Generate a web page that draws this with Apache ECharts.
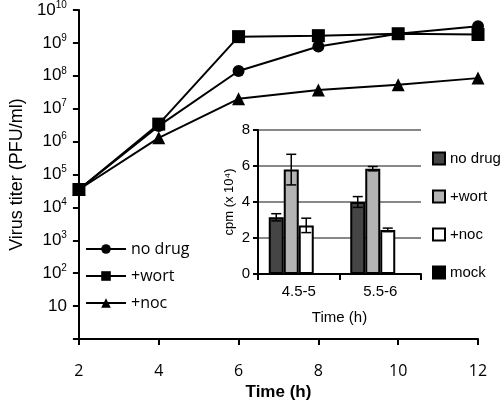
<!DOCTYPE html>
<html><head><meta charset="utf-8">
<script src="https://cdn.jsdelivr.net/npm/echarts@6/dist/echarts.min.js"></script>
<style>html,body{margin:0;padding:0;background:#fff}#c{width:500px;height:407px}</style>
</head><body><div id="c"></div>
<script>
// Main chart data (virus titer, PFU/ml)
var timePoints = [2, 4, 6, 8, 10, 12];
var noDrugTiter = [3.5e4, 3.0e6, 1.4e8, 7.8e8, 1.9e9, 3.2e9];
var wortTiter   = [3.5e4, 3.4e6, 1.55e9, 1.66e9, 1.9e9, 1.8e9];
var nocTiter    = [3.5e4, 1.3e6, 2.0e7, 3.7e7, 5.3e7, 8.5e7];

// Inset data (cpm x 10^4)
var binCategories = ['4.5-5', '5.5-6'];
var noDrugCpm = [3.15, 4.0];
var noDrugErr = [0.2, 0.3];
var wortCpm = [5.8, 5.85];
var wortErr = [0.85, 0.12];
var nocCpm = [2.7, 2.45];
var nocErr = [0.4, 0.1];
var mockCpm = [0.03, 0.05];
var mockErr = [0, 0];

var BARW = 15;
function pairs(xs, ys){ return xs.map(function(x,i){return [x, ys[i]];}); }

function errSeries(name, vals, errs, idx){
  return {
    type: 'custom', xAxisIndex: 1, yAxisIndex: 1, z: 10, silent: true,
    data: vals.map(function(v,i){ return [i, v, errs[i]]; }),
    renderItem: function(params, api){
      var c = api.value(0), v = api.value(1), e = api.value(2);
      if (!e) return null;
      var p = api.coord([c, v]);
      var x = p[0] + (idx - 1.5) * BARW;
      var hi = api.coord([c, v + e])[1], lo = api.coord([c, v - e])[1];
      var st = {stroke: '#000', lineWidth: 1.5};
      return {type: 'group', children: [
        {type: 'line', shape: {x1: x, y1: hi, x2: x, y2: lo}, style: st},
        {type: 'line', shape: {x1: x-5, y1: hi, x2: x+5, y2: hi}, style: st},
        {type: 'line', shape: {x1: x-5, y1: lo, x2: x+5, y2: lo}, style: st}
      ]};
    }
  };
}

var chart = echarts.init(document.getElementById('c'), null, {renderer: 'canvas'});
var lineCommon = {type: 'line', xAxisIndex: 0, yAxisIndex: 0, lineStyle: {color: '#000', width: 2},
  itemStyle: {color: '#000'}, symbolSize: 12, z: 5};

var option = {
  animation: false,
  backgroundColor: '#fff',
  grid: [
    {left: 67, top: 5, right: 22, bottom: 68},
    {left: 258, top: 130, width: 163, height: 144}
  ],
  xAxis: [
    {type: 'value', gridIndex: 0, min: 2, max: 12, interval: 2,
     name: 'Time (h)', nameLocation: 'middle', nameGap: 45,
     nameTextStyle: {fontFamily: 'Liberation Sans', fontSize: 17, fontWeight: 'bold', color: '#000'},
     axisLine: {lineStyle: {color: '#000', width: 2}},
     axisTick: {show: true, length: 6, lineStyle: {color: '#000', width: 2}},
     axisLabel: {fontFamily: 'Open Sans', fontSize: 16, color: '#000', margin: 24},
     splitLine: {show: false}},
    {type: 'category', gridIndex: 1, data: binCategories,
     name: 'Time (h)', nameLocation: 'middle', nameGap: 36,
     nameTextStyle: {fontFamily: 'Liberation Sans', fontSize: 15, color: '#000'},
     axisLine: {lineStyle: {color: '#000', width: 2}},
     axisTick: {show: true, length: 6, alignWithLabel: false, lineStyle: {color: '#000', width: 2}},
     axisLabel: {fontFamily: 'Liberation Sans', fontSize: 15, color: '#000', margin: 10}}
  ],
  yAxis: [
    {type: 'log', logBase: 10, gridIndex: 0, min: 1, max: 1e10, interval: 1,
     name: 'Virus titer (PFU/ml)', nameLocation: 'middle', nameGap: 46,
     nameTextStyle: {fontFamily: 'Liberation Sans', fontSize: 18, color: '#000'},
     axisLine: {show: true, lineStyle: {color: '#000', width: 2}},
     axisTick: {show: true, length: 6, lineStyle: {color: '#000', width: 2}},
     splitLine: {show: false},
     axisLabel: {margin: 12, color: '#000', showMinLabel: true, showMaxLabel: true,
       formatter: function(v){
         var n = Math.round(Math.log10(v));
         if (n === 0) return '';
         if (n === 1) return '{b|10}';
         return '{b|10}{s|' + n + '}';
       },
       rich: {b: {fontFamily: 'Liberation Sans', fontSize: 17, color: '#000'},
              s: {fontFamily: 'Liberation Sans', fontSize: 10, color: '#000', verticalAlign: 'bottom', padding: [0,0,10,0]}}}},
    {type: 'value', gridIndex: 1, min: 0, max: 8, interval: 2,
     name: 'cpm (x 10\u2074)', nameLocation: 'middle', nameGap: 22,
     nameTextStyle: {fontFamily: 'Liberation Sans', fontSize: 13, color: '#000'},
     axisLine: {show: true, lineStyle: {color: '#000', width: 2}},
     axisTick: {show: true, length: 5, lineStyle: {color: '#000', width: 2}},
     axisLabel: {fontFamily: 'Liberation Sans', fontSize: 15, color: '#000', margin: 8},
     splitLine: {show: true, lineStyle: {color: '#888', width: 2}}}
  ],
  legend: [
    {data: ['no drug', '+wort', '+noc'], orient: 'vertical', left: 80, top: 236,
     itemWidth: 40, itemHeight: 12, itemGap: 11,
     textStyle: {fontFamily: 'Open Sans', fontSize: 16, color: '#000'}},
    {data: ['no drug ', '+wort ', '+noc ', 'mock'], orient: 'vertical', left: 427, top: 146,
     itemWidth: 12, itemHeight: 12, itemGap: 23, icon: 'rect',
     textStyle: {fontFamily: 'Liberation Sans', fontSize: 15, color: '#000'}}
  ],
  series: [
    Object.assign({}, lineCommon, {name: 'no drug', symbol: 'circle', data: pairs(timePoints, noDrugTiter)}),
    Object.assign({}, lineCommon, {name: '+wort', symbol: 'rect', symbolSize: 13, data: pairs(timePoints, wortTiter)}),
    Object.assign({}, lineCommon, {name: '+noc', symbol: 'triangle', symbolSize: 13, data: pairs(timePoints, nocTiter)}),
    {name: 'no drug ', type: 'bar', xAxisIndex: 1, yAxisIndex: 1, barWidth: BARW, barGap: '0%', data: noDrugCpm,
     itemStyle: {color: '#454545', borderColor: '#000', borderWidth: 2}},
    {name: '+wort ', type: 'bar', xAxisIndex: 1, yAxisIndex: 1, barWidth: BARW, barGap: '0%', data: wortCpm,
     itemStyle: {color: '#b4b4b4', borderColor: '#000', borderWidth: 2}},
    {name: '+noc ', type: 'bar', xAxisIndex: 1, yAxisIndex: 1, barWidth: BARW, barGap: '0%', data: nocCpm,
     itemStyle: {color: '#fff', borderColor: '#000', borderWidth: 2}},
    {name: 'mock', type: 'bar', xAxisIndex: 1, yAxisIndex: 1, barWidth: BARW, barGap: '0%', data: mockCpm,
     itemStyle: {color: '#000', borderColor: '#000', borderWidth: 1}},
    errSeries('e0', noDrugCpm, noDrugErr, 0),
    errSeries('e1', wortCpm, wortErr, 1),
    errSeries('e2', nocCpm, nocErr, 2),
    errSeries('e3', mockCpm, mockErr, 3)
  ]
};
chart.setOption(option);
</script></body></html>
